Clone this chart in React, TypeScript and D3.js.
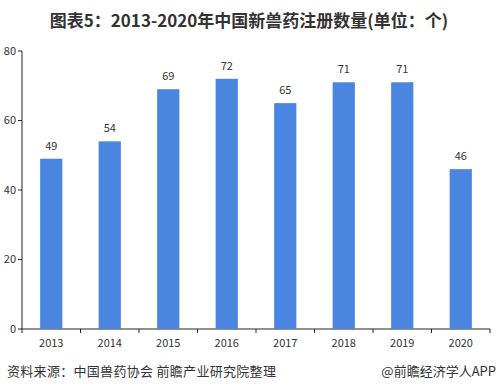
import * as d3 from 'd3'

const years = ['2013', '2014', '2015', '2016', '2017', '2018', '2019', '2020']
const counts = [49, 54, 69, 72, 65, 71, 71, 46]
const yTicks = [0, 20, 40, 60, 80]

const title = '图表5：2013-2020年中国新兽药注册数量(单位：个)'
const source = '资料来源：中国兽药协会 前瞻产业研究院整理'
const brand = '@前瞻经济学人APP'

export default function App() {
  const width = 498
  const height = 392
  const left = 22
  const right = 490
  const top = 51
  const bottom = 329
  const font = '"Microsoft YaHei", "Noto Sans CJK SC", sans-serif'

  const x = d3.scaleBand().domain(years).range([left, right]).paddingInner(0.62).paddingOuter(0.31)
  const y = d3.scaleLinear().domain([0, 80]).range([bottom, top])
  const tickXs = d3.range(years.length + 1).map(i => left + i * ((right - left) / years.length))

  return (
    <svg width={width} height={height} style={{ position: 'absolute', left: 0, top: 0, background: '#fff' }}>
      <text x={249} y={27} textAnchor="middle" fontFamily={font} fontWeight="bold" fontSize={17} fill="#333">
        {title}
      </text>

      {/* y axis */}
      <line x1={left} x2={left} y1={top} y2={bottom} stroke="#222" />
      {yTicks.map(t => (
        <g key={t}>
          <line x1={left - 4} x2={left} y1={y(t)} y2={y(t)} stroke="#222" />
          <text x={left - 6} y={y(t)} dy="0.35em" textAnchor="end" fontFamily={font} fontSize={11} fill="#333">
            {t}
          </text>
        </g>
      ))}

      {/* x axis */}
      <line x1={left} x2={right} y1={bottom} y2={bottom} stroke="#222" />
      {tickXs.map((tx, i) => (
        <line key={i} x1={tx} x2={tx} y1={bottom} y2={bottom + 4} stroke="#222" />
      ))}
      {years.map(yr => (
        <text key={yr} x={(x(yr) ?? 0) + x.bandwidth() / 2} y={bottom + 18} textAnchor="middle" fontFamily={font} fontSize={11} fill="#333">
          {yr}
        </text>
      ))}

      {/* bars */}
      {years.map((yr, i) => (
        <g key={yr}>
          <rect x={x(yr)} y={y(counts[i])} width={x.bandwidth()} height={bottom - y(counts[i])} fill="#4a86e0" />
          <text x={(x(yr) ?? 0) + x.bandwidth() / 2} y={y(counts[i]) - 9} textAnchor="middle" fontFamily={font} fontSize={11} fill="#333">
            {counts[i]}
          </text>
        </g>
      ))}

      <text x={7} y={376} fontFamily={font} fontSize={13} letterSpacing={0.3} fill="#333">
        {source}
      </text>
      <text x={496} y={376} textAnchor="end" fontFamily={font} fontSize={13} fill="#333">
        {brand}
      </text>
    </svg>
  )
}
